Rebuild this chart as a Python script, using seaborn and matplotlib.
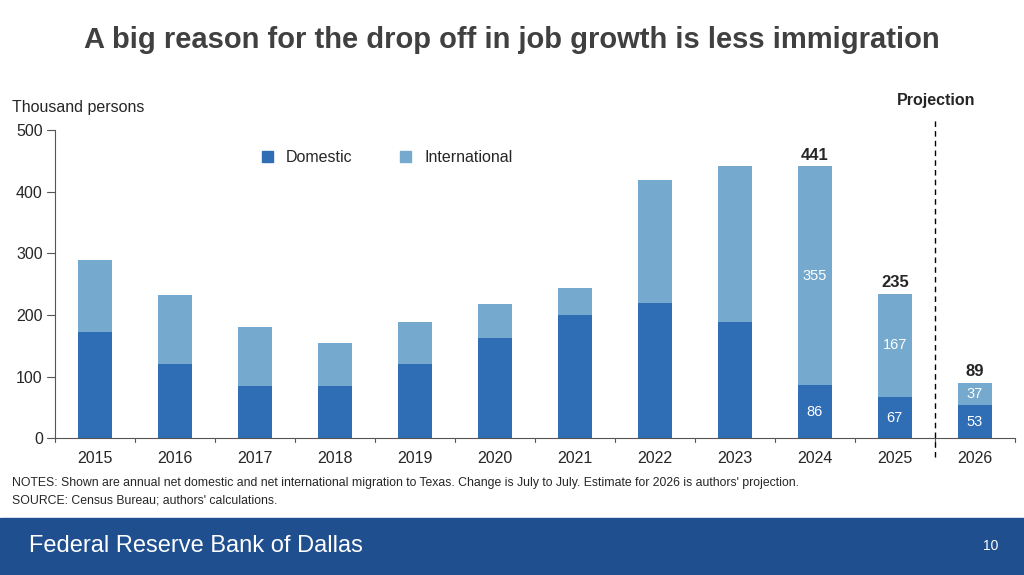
import matplotlib
matplotlib.use("Agg")
import matplotlib.pyplot as plt
import seaborn as sns
import pandas as pd
from matplotlib.patches import Rectangle

years = ["2015", "2016", "2017", "2018", "2019", "2020", "2021", "2022", "2023", "2024", "2025", "2026"]
domestic = [172, 121, 85, 84, 121, 163, 200, 219, 189, 86, 67, 53]
international = [117, 111, 96, 70, 67, 54, 43, 199, 252, 355, 167, 37]
totals_shown = {"2024": 441, "2025": 235, "2026": 89}

df = pd.DataFrame({"Year": years, "Domestic": domestic, "International": international})
df["Total"] = df["Domestic"] + df["International"]

DOM = "#2F6DB5"
INTL = "#75A9CD"

sns.set_style("white")
plt.rcParams["font.family"] = ["Liberation Sans", "DejaVu Sans"]

fig = plt.figure(figsize=(10.24, 5.75), dpi=100)
ax = fig.add_axes([0.054, 0.238, 0.937, 0.536])

sns.barplot(data=df, x="Year", y="Total", color=INTL, width=0.42, ax=ax, saturation=1, linewidth=0)
sns.barplot(data=df, x="Year", y="Domestic", color=DOM, width=0.42, ax=ax, saturation=1, linewidth=0)

ax.set_ylim(0, 500)
ax.set_xlim(-0.5, 11.5)
ax.set_yticks(range(0, 501, 100))
ax.set_xlabel("")
ax.set_ylabel("")
ax.tick_params(axis="both", labelsize=11.5, length=0)
ax.tick_params(axis="x", pad=9)
ax.tick_params(axis="y", pad=9)
for s in ["top", "right"]:
    ax.spines[s].set_visible(False)
for s in ["left", "bottom"]:
    ax.spines[s].set_color("#555555")
# tick marks between categories
for i in range(13):
    ax.plot([i - 0.5, i - 0.5], [0, -6], color="#555555", lw=0.8, clip_on=False)
for i in range(6):
    ax.plot([-0.5, -0.6], [i * 100, i * 100], color="#555555", lw=0.8, clip_on=False)

# labels inside bars for last three
for i, y in enumerate(years):
    if y in totals_shown:
        d = domestic[i]; n = international[i]
        ax.text(i, d / 2, str(d), ha="center", va="center", color="white", fontsize=10.5)
        ax.text(i, d + n / 2, str(n), ha="center", va="center", color="white", fontsize=10.5)
        ax.text(i, df["Total"][i] + 6, str(totals_shown[y]), ha="center", va="bottom",
                fontsize=12, fontweight="bold")

# projection divider
ax.plot([10.5, 10.5], [-30, 518], color="black", ls=(0, (4, 3)), lw=1, clip_on=False)
ax.text(10.52, 535, "Projection", ha="center", va="bottom", fontsize=11.5, fontweight="bold")

handles = [Rectangle((0, 0), 1, 1, color=DOM), Rectangle((0, 0), 1, 1, color=INTL)]
ax.legend(handles, ["Domestic", "International"], loc="upper left", bbox_to_anchor=(0.2, 0.98),
          ncol=2, frameon=False, fontsize=11.5, handlelength=0.7, handleheight=0.7, columnspacing=3)

fig.text(0.012, 0.8, "Thousand persons", fontsize=11.5, va="bottom")
fig.text(0.5, 0.93, "A big reason for the drop off in job growth is less immigration",
         ha="center", va="center", fontsize=21, fontweight="bold", color="#404040")
fig.text(0.012, 0.155, "NOTES: Shown are annual net domestic and net international migration to Texas. "
         "Change is July to July. Estimate for 2026 is authors' projection.", fontsize=8.8)
fig.text(0.012, 0.125, "SOURCE: Census Bureau; authors' calculations.", fontsize=8.8)

fig.patches.append(Rectangle((0, 0), 1, 57 / 575, transform=fig.transFigure, color="#1F4F8F", zorder=0))
fig.text(0.028, 0.05, "Federal Reserve Bank of Dallas", color="white", fontsize=17, va="center")
fig.text(0.975, 0.05, "10", color="white", fontsize=10, va="center", ha="right")

fig.savefig("out.png", dpi=100)
